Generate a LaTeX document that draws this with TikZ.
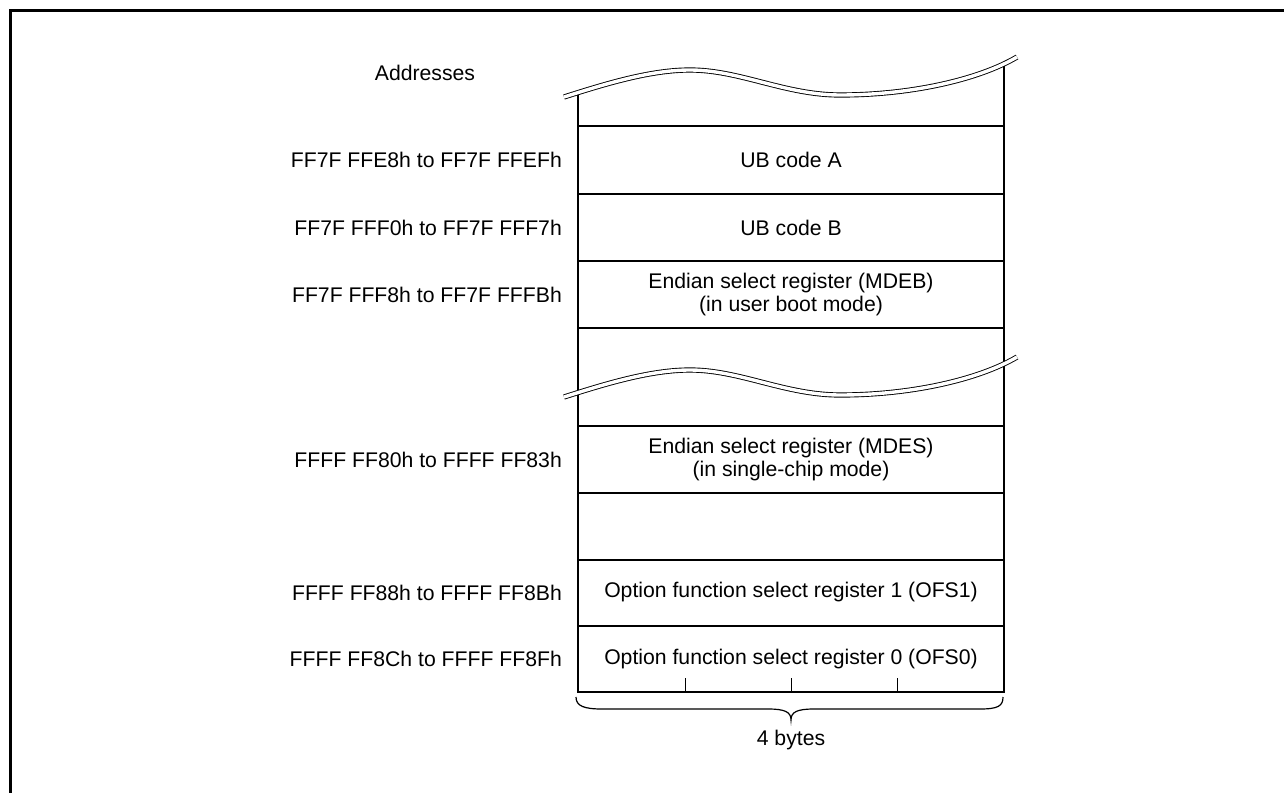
\documentclass[tikz,border=0pt]{standalone}
\usepackage{fontspec}
\setmainfont{Liberation Sans}
\begin{document}
\begin{tikzpicture}[x=1pt,y=-1pt,
  font=\fontsize{21.2}{23}\selectfont,
  boxline/.style={line width=1.6pt},
  frameline/.style={line width=3pt},
  wave/.style={double, double distance=3.4pt, line width=0.9pt},
  tickline/.style={line width=1pt},
  braceline/.style={line width=1.2pt},
  addr/.style={anchor=east, inner sep=0pt},
  cell/.style={align=center, inner sep=0pt}]
\useasboundingbox (0,0) rectangle (1284,792);
% outer frame (top and left)
\draw[frameline] (1290,10.5) -- (10.5,10.5) -- (10.5,800);
% box edges
\draw[boxline] (578,92) -- (578,692) -- (1004,692) -- (1004,62);
\foreach \yy in {126,194,261,328,426,493,560,626}
  \draw[boxline] (578,\yy) -- (1004,\yy);
% ticks
\foreach \xx in {685.5,791.5,897.5}
  \draw[tickline] (\xx,678) -- (\xx,692);
% waves
\foreach \dy in {0,300}{
  \draw[wave] (564,97+\dy) .. controls (605,84+\dy) and (650,70+\dy) .. (690,70+\dy)
     .. controls (740,70+\dy) and (785,95+\dy) .. (840,95+\dy)
     .. controls (910,95+\dy) and (978,80+\dy) .. (1017,57+\dy);
}
% brace
\draw[braceline] (576,697) .. controls (576,706) and (584,709) .. (602,709) -- (768,709)
  .. controls (785,709) and (791,712) .. (791,720)
  .. controls (791,712) and (797,709) .. (814,709) -- (980,709)
  .. controls (998,709) and (1003,706) .. (1003,697);
% labels
\node (hdr) at (425,73) {Addresses};
\node[addr] (a1) at (562,160) {FF7F FFE8h to FF7F FFEFh};
\node[addr] (a2) at (562,227.5) {FF7F FFF0h to FF7F FFF7h};
\node[addr] (a3) at (562,294.5) {FF7F FFF8h to FF7F FFFBh};
\node[addr] (a4) at (562,459.5) {FFFF FF80h to FFFF FF83h};
\node[addr] (a5) at (562,592.5) {FFFF FF88h to FFFF FF8Bh};
\node[addr] (a6) at (562,659) {FFFF FF8Ch to FFFF FF8Fh};
\node[cell] (c1) at (791,160) {UB code A};
\node[cell] (c2) at (791,227.5) {UB code B};
\node[cell] (c3) at (791,294.5) {Endian select register (MDEB)\\(in user boot mode)};
\node[cell] (c4) at (791,459.5) {Endian select register (MDES)\\(in single-chip mode)};
\node[cell] (c5) at (791,592.5) {Option function select register 1 (OFS1)};
\node[cell] (c6) at (791,659) {Option function select register 0 (OFS0)};
\node[cell] (bytes) at (791,740) {4 bytes};
\end{tikzpicture}
\end{document}
